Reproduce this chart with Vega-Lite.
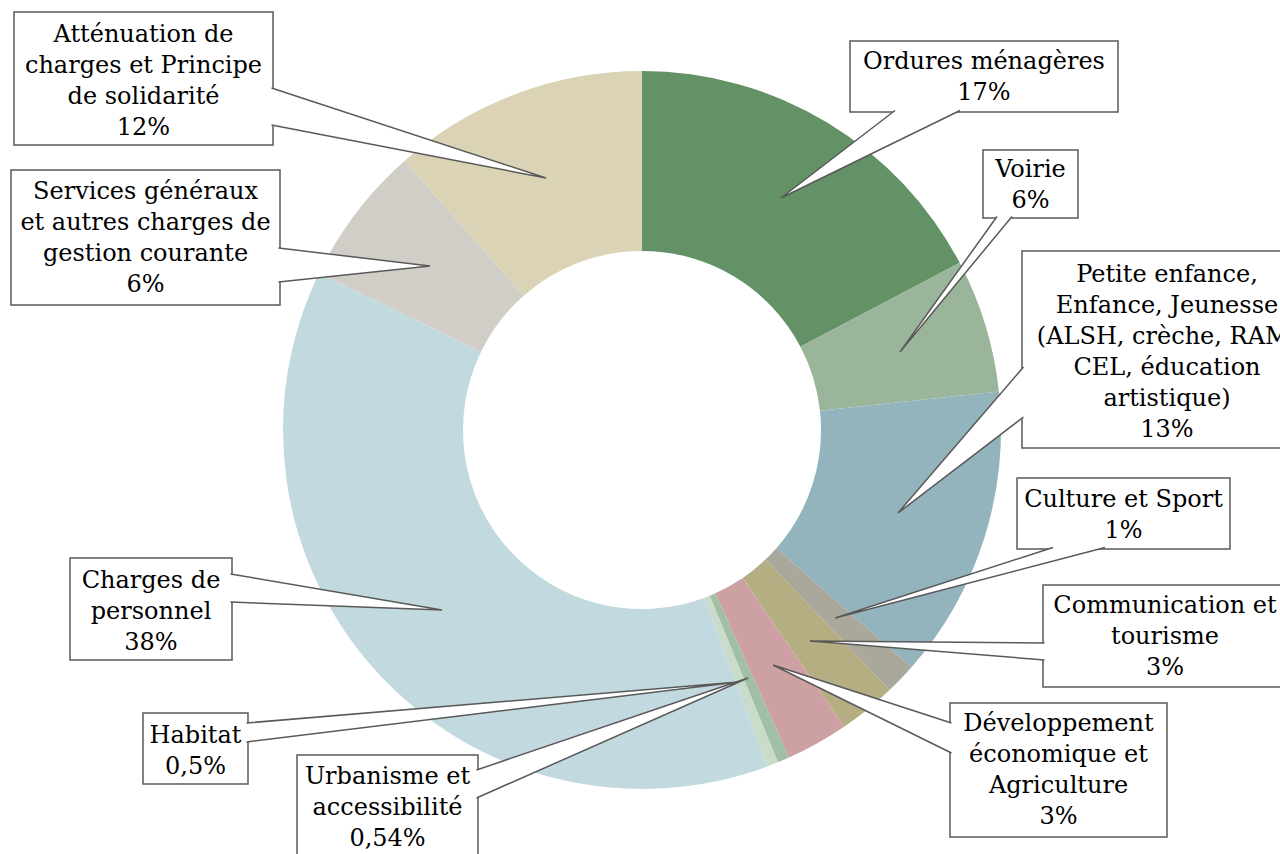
{
  "$schema": "https://vega.github.io/schema/vega-lite/v6.json",
  "width": 1280,
  "height": 854,
  "autosize": {"type": "fit", "contains": "padding"},
  "padding": {"left": 4, "top": 6, "right": 0, "bottom": 0},
  "background": "white",
  "config": {"view": {"stroke": null}},
  "datasets": {
    "slices": [
      {"cat": "Ordures ménagères", "share": 17.3, "rank": 1},
      {"cat": "Voirie", "share": 6.0, "rank": 2},
      {"cat": "Petite enfance, Enfance, Jeunesse", "share": 13.2, "rank": 3},
      {"cat": "Culture et Sport", "share": 1.4, "rank": 4},
      {"cat": "Communication et tourisme", "share": 2.6, "rank": 5},
      {"cat": "Développement économique et Agriculture", "share": 2.8, "rank": 6},
      {"cat": "Urbanisme et accessibilité", "share": 0.54, "rank": 7},
      {"cat": "Habitat", "share": 0.5, "rank": 8},
      {"cat": "Charges de personnel", "share": 37.9, "rank": 9},
      {"cat": "Services généraux et autres charges de gestion courante", "share": 6.3, "rank": 10},
      {"cat": "Atténuation de charges et Principe de solidarité", "share": 11.5, "rank": 11}
    ],
    "callouts": [
      {"id": "att", "bx1": -628, "bx2": -369, "by1": 418, "by2": 285, "tx": -498.5, "ty": 395, "label": "Atténuation de\ncharges et Principe\nde solidarité\n12%"},
      {"id": "ord", "bx1": 208, "bx2": 476, "by1": 389, "by2": 318, "tx": 342, "ty": 368, "label": "Ordures ménagères\n17%"},
      {"id": "voi", "bx1": 341, "bx2": 436, "by1": 280, "by2": 212, "tx": 388.5, "ty": 260.5, "label": "Voirie\n6%"},
      {"id": "pet", "bx1": 380, "bx2": 670, "by1": 179, "by2": -18, "tx": 525, "ty": 155, "label": "Petite enfance,\nEnfance, Jeunesse\n(ALSH, crèche, RAM,\nCEL, éducation\nartistique)\n13%"},
      {"id": "cul", "bx1": 375, "bx2": 588, "by1": -48, "by2": -119, "tx": 481.5, "ty": -69.5, "label": "Culture et Sport\n1%"},
      {"id": "com", "bx1": 401, "bx2": 645, "by1": -155, "by2": -257, "tx": 523, "ty": -176, "label": "Communication et\ntourisme\n3%"},
      {"id": "dev", "bx1": 308, "bx2": 525, "by1": -273, "by2": -407, "tx": 416.5, "ty": -294, "label": "Développement\néconomique et\nAgriculture\n3%"},
      {"id": "urb", "bx1": -345, "bx2": -164, "by1": -325, "by2": -450, "tx": -254.5, "ty": -347, "label": "Urbanisme et\naccessibilité\n0,54%"},
      {"id": "hab", "bx1": -499, "bx2": -394, "by1": -283, "by2": -354, "tx": -446.5, "ty": -305.5, "label": "Habitat\n0,5%"},
      {"id": "cha", "bx1": -572, "bx2": -410, "by1": -128, "by2": -230, "tx": -491, "ty": -151, "label": "Charges de\npersonnel\n38%"},
      {"id": "ser", "bx1": -631, "bx2": -362, "by1": 260, "by2": 125, "tx": -496.5, "ty": 238.5, "label": "Services généraux\net autres charges de\ngestion courante\n6%"}
    ],
    "wedges": [
      {"id": "att", "k": 0, "x": -370.5, "y": 342}, {"id": "att", "k": 1, "x": -96, "y": 252}, {"id": "att", "k": 2, "x": -370.5, "y": 305},
      {"id": "ord", "k": 0, "x": 253, "y": 319.5}, {"id": "ord", "k": 1, "x": 139, "y": 232}, {"id": "ord", "k": 2, "x": 318, "y": 319.5},
      {"id": "voi", "k": 0, "x": 355, "y": 213.5}, {"id": "voi", "k": 1, "x": 258, "y": 78}, {"id": "voi", "k": 2, "x": 370, "y": 213.5},
      {"id": "pet", "k": 0, "x": 381.5, "y": 63}, {"id": "pet", "k": 1, "x": 256, "y": -83}, {"id": "pet", "k": 2, "x": 381.5, "y": 13},
      {"id": "cul", "k": 0, "x": 411, "y": -117.5}, {"id": "cul", "k": 1, "x": 193, "y": -188}, {"id": "cul", "k": 2, "x": 463, "y": -117.5},
      {"id": "com", "k": 0, "x": 402.5, "y": -213}, {"id": "com", "k": 1, "x": 168, "y": -211}, {"id": "com", "k": 2, "x": 402.5, "y": -230},
      {"id": "dev", "k": 0, "x": 309.5, "y": -293}, {"id": "dev", "k": 1, "x": 131, "y": -235}, {"id": "dev", "k": 2, "x": 309.5, "y": -323},
      {"id": "urb", "k": 0, "x": -165.5, "y": -340}, {"id": "urb", "k": 1, "x": 106, "y": -248}, {"id": "urb", "k": 2, "x": -165.5, "y": -368},
      {"id": "hab", "k": 0, "x": -395.5, "y": -293}, {"id": "hab", "k": 1, "x": 96, "y": -252}, {"id": "hab", "k": 2, "x": -395.5, "y": -312},
      {"id": "cha", "k": 0, "x": -411.5, "y": -144}, {"id": "cha", "k": 1, "x": -200, "y": -180}, {"id": "cha", "k": 2, "x": -411.5, "y": -172},
      {"id": "ser", "k": 0, "x": -363.5, "y": 182}, {"id": "ser", "k": 1, "x": -212, "y": 164}, {"id": "ser", "k": 2, "x": -363.5, "y": 148}
    ]
  },
  "layer": [
    {
      "data": {"name": "slices"},
      "mark": {"type": "arc", "outerRadius": 359, "innerRadius": 179},
      "encoding": {
        "theta": {"field": "share", "type": "quantitative", "stack": true},
        "order": {"field": "rank", "type": "quantitative"},
        "color": {
          "field": "cat",
          "type": "nominal",
          "legend": null,
          "scale": {
            "domain": ["Ordures ménagères", "Voirie", "Petite enfance, Enfance, Jeunesse", "Culture et Sport", "Communication et tourisme", "Développement économique et Agriculture", "Urbanisme et accessibilité", "Habitat", "Charges de personnel", "Services généraux et autres charges de gestion courante", "Atténuation de charges et Principe de solidarité"],
            "range": ["#629265", "#9bb59a", "#93b3bd", "#a9a89b", "#b5ae83", "#cda1a3", "#a0bfa4", "#c8dcc9", "#c2d9e0", "#d0cec6", "#dbd3b5"]
          }
        }
      }
    },
    {
      "data": {"name": "callouts"},
      "mark": {"type": "rect", "fill": "white", "stroke": "#595959", "strokeWidth": 1.5, "clip": true},
      "encoding": {
        "x": {"field": "bx1", "type": "quantitative", "scale": {"domain": [-638, 638], "nice": false, "zero": false}, "axis": null},
        "x2": {"field": "bx2"},
        "y": {"field": "by1", "type": "quantitative", "scale": {"domain": [-424, 424], "nice": false, "zero": false}, "axis": null},
        "y2": {"field": "by2"}
      }
    },
    {
      "data": {"name": "wedges"},
      "mark": {"type": "line", "fill": "white", "stroke": "#595959", "strokeWidth": 1.5, "clip": true},
      "encoding": {
        "x": {"field": "x", "type": "quantitative", "scale": {"domain": [-638, 638], "nice": false, "zero": false}, "axis": null},
        "y": {"field": "y", "type": "quantitative", "scale": {"domain": [-424, 424], "nice": false, "zero": false}, "axis": null},
        "detail": {"field": "id", "type": "nominal"},
        "order": {"field": "k", "type": "quantitative"}
      }
    },
    {
      "data": {"name": "callouts"},
      "mark": {"type": "text", "font": "DejaVu Serif", "fontSize": 24, "lineHeight": 31, "lineBreak": "\n", "align": "center", "baseline": "middle", "fill": "black", "clip": true},
      "encoding": {
        "x": {"field": "tx", "type": "quantitative", "scale": {"domain": [-638, 638], "nice": false, "zero": false}, "axis": null},
        "y": {"field": "ty", "type": "quantitative", "scale": {"domain": [-424, 424], "nice": false, "zero": false}, "axis": null},
        "text": {"field": "label"}
      }
    }
  ]
}
